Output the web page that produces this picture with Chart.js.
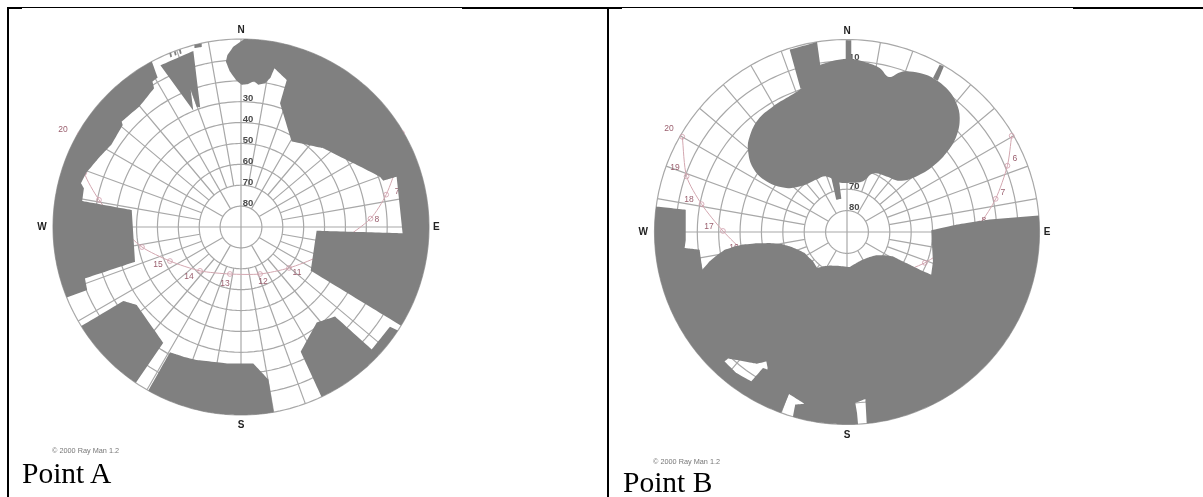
<!DOCTYPE html>
<html>
<head>
<meta charset="utf-8">
<title>Point A / Point B</title>
<script src="https://cdn.jsdelivr.net/npm/chart.js@4"></script>
<style>
html,body{margin:0;padding:0;background:#fff;overflow:hidden;}
body{width:1203px;height:497px;position:relative;font-family:"Liberation Sans",Arial,sans-serif;}
.rule{position:absolute;background:#000;}
.box{position:absolute;top:9px;height:488px;}
.copy{position:absolute;font-size:7.3px;color:#777;white-space:nowrap;}
.name{position:absolute;font-family:"Liberation Serif",serif;font-size:29.5px;color:#000;white-space:nowrap;line-height:30px;}
</style>
</head>
<body>
<div class="rule" style="left:7px;top:7px;width:455px;height:1px"></div>
<div class="rule" style="left:7px;top:7px;width:15px;height:2px"></div>
<div class="rule" style="left:462px;top:7px;width:160px;height:2px"></div>
<div class="rule" style="left:622px;top:7px;width:451px;height:1px"></div>
<div class="rule" style="left:1073px;top:7px;width:130px;height:2px"></div>
<div class="rule" style="left:7px;top:7px;width:2px;height:490px"></div>
<div class="rule" style="left:607px;top:7px;width:2px;height:490px"></div>

<div class="box" style="left:9px;width:597px"><canvas id="chartA" width="597" height="488"></canvas></div>
<div class="box" style="left:609px;width:594px"><canvas id="chartB" width="594" height="488"></canvas></div>

<div class="copy" style="left:52px;top:446px">© 2000 Ray Man 1.2</div>
<div class="copy" style="left:653px;top:457px">© 2000 Ray Man 1.2</div>
<div class="name" style="left:22px;top:458px">Point A</div>
<div class="name" style="left:623px;top:467px">Point B</div>

<script>
// sky map: x = east, y = north, both in degrees away from the zenith (horizon = 90)
function rim(a, b) {
  var out = [];
  for (var t = a; t < b; t += 2) {
    out.push([90 * Math.sin(t * Math.PI / 180), 90 * Math.cos(t * Math.PI / 180)]);
  }
  out.push([90 * Math.sin(b * Math.PI / 180), 90 * Math.cos(b * Math.PI / 180)]);
  return out;
}

var ringValues = [10, 20, 30, 40, 50, 60, 70, 80];
var spokeAzimuths = [0, 10, 20, 30, 40, 50, 60, 70, 80, 90, 100, 110, 120, 130, 140, 150, 160, 170,
  180, 190, 200, 210, 220, 230, 240, 250, 260, 270, 280, 290, 300, 310, 320, 330, 340, 350];
var compass = [['N', 0, 94], ['E', 93.5, 0], ['S', 0, -95], ['W', -95.3, 0]];

// sun track, first point is the line start, the others are the hours 6..20
var sunStart = [77, 45];
var sunHours = [[75, 31], [69.5, 15.5], [62, 4], [47.9, -6.7], [36.4, -14.4], [23, -19.6], [9.1, -22.5],
  [-5.3, -22.5], [-19.6, -21], [-34, -16.3], [-47.4, -9.6], [-58, 0.5], [-68, 13], [-75, 26], [-77, 44.5]];

var hourLabelsA = [['8', 65.1, 3.4], ['7', 74.7, 16.8], ['11', 26.8, -22], ['12', 10.5, -26.3],
  ['13', -7.7, -27.3], ['14', -24.9, -23.9], ['15', -39.7, -18.2], ['20', -85.2, 46.4]];
var hourLabelsB = [['20', -83.2, 48.2], ['19', -80.4, 29.9], ['18', -73.9, 15], ['17', -64.5, 2.3],
  ['16', -52.8, -7.5], ['6', 78.5, 34.1], ['7', 72.9, 18.2], ['8', 64, 5.1]];

// POINT A obstructions
var a_north_east = rim(1, 121.6).concat([[33.4, -20.9], [36.2, -1.8], [77.4, -3], [74.5, 24.1], [68.1, 22.2],
  [66.5, 24.1], [52.2, 31.3], [39.4, 37.7], [24.3, 40.9], [18.7, 59.2], [21.9, 70.4], [16, 76], [14.2, 71.6],
  [11.5, 68.8], [8.3, 68.1], [6.2, 69.9], [3.5, 68.5], [0.3, 68.1], [-2.4, 70.4], [-5.3, 74.4], [-7.2, 79.1],
  [-6.5, 82.3], [-3.7, 86.3]]);
var a_west = rim(248, 331.7).concat([[-39.9, 71.6], [-42.4, 69.6], [-41.6, 66.4], [-48.4, 57.9], [-57.1, 50.4],
  [-56.6, 48.8], [-61.9, 39.6], [-67.5, 33.7], [-74.2, 25.7], [-76.6, 20.9], [-75.2, 18.5], [-76, 12.4],
  [-52.3, 8.1], [-50.7, -16.6], [-74.7, -24.6], [-73.6, -30.2]]);
var a_wedge = [[-38.6, 77.4], [-22.8, 84.3], [-19.5, 57.3], [-21.2, 57.6], [-24.1, 65.9], [-22.8, 55.7]];
var a_chip = [[-22.3, 87.4], [-18.8, 87.9], [-18.8, 86.2], [-22.3, 85.7]];
var a_tick1 = [[-34.3, 83.1], [-33.5, 83.5], [-33, 81.5], [-33.8, 81.2]];
var a_tick2 = [[-32.1, 83.9], [-31.3, 84.3], [-30.8, 82.3], [-31.6, 82]];
var a_tick3 = [[-29.7, 84.7], [-28.9, 85.1], [-28.4, 83.1], [-29.2, 82.8]];
var a_south_west = rim(214, 238.2).concat([[-56.3, -35.4], [-49.9, -37.3], [-37.2, -55.4]]);
var a_south = rim(170, 209.5).concat([[-34, -60], [-27.6, -62.1], [-21.2, -63.7], [-6.9, -65.3], [5.9, -65.3], [13.1, -72.9]]);
var a_south_east = rim(123.4, 154.6).concat([[28.6, -59.7], [36.2, -45.8], [45, -42.9], [62.6, -58.6], [71.3, -47.7]]);

// POINT B obstructions
var b_hole = [[-44.7, -69.8], [-39.3, -63.6], [-36.9, -64.4], [-37.7, -60.5], [-42.4, -61.6], [-55.6, -59.2],
  [-57.2, -60.5], [-51.7, -65.9], [-44.7, -69.8]];
var b_ground = rim(85.1, 174.1)
  .concat([[8.6, -78.1], [3.9, -79.9], [4.7, -84.6]])
  .concat(rim(176.7, 196.3))
  .concat([[-24.2, -80.7], [-19.8, -80.3], [-27.1, -75.7]])
  .concat(rim(200, 212.6))
  .concat(b_hole)
  .concat(rim(212.6, 277.6))
  .concat([[-75.4, 10.4], [-75.4, -3.9], [-75.9, -7.5], [-68.9, -8.3], [-67.6, -17.6], [-64.2, -13.7], [-61.1, -11.1],
    [-57.2, -8.3], [-53.3, -7], [-48.6, -5.9], [-42.4, -5.3], [-36.2, -5.1], [-30.7, -5.6], [-26.8, -6.7], [-22.9, -8.3],
    [-19.8, -9.8], [-17.5, -12.2], [-15.9, -13.7], [-14, -16.8], [-11.2, -16.1], [-8.1, -15.7], [-3.4, -15.9], [1.2, -16.4],
    [4.4, -14.5], [7.5, -12.9], [10.6, -11.7], [13.7, -10.9], [17.6, -10.9], [21.5, -11.4], [27.7, -14.5], [34, -17.6],
    [39.4, -19.9], [40.2, -13.7], [39.4, 0.8], [51.1, 3.4], [66.7, 5.8]]);
var b_roof = [[-26.8, 85.2], [-14, 88.8], [-12.5, 78.2], [-12.5, 70], [-21.7, 66.9]];
var b_mast = [[-0.6, 89.6], [2, 89.6], [2, 79], [-0.6, 79]];
var b_pole = [[43.3, 78.2], [45.3, 77.4], [42.5, 70.7], [40.2, 72]];
var b_stem = [[-3.7, 24], [-2.6, 15.6], [-5, 15.1], [-7.3, 25.2]];
// the tree crowns, drawn with a curved line
var b_crowns = [[-6.5, 80.1], [1, 81], [9, 79.3], [15.3, 76.7], [19.6, 72.5], [24.6, 74.6], [27.7, 75.2], [34, 74.3], [40.2, 72],
  [47.2, 66.5], [51.1, 60.3], [52.7, 53.3], [51.1, 44.7], [46.4, 36.9], [40.2, 30.7], [32.4, 26], [24.6, 24], [18.4, 26],
  [12.2, 27.3], [7.5, 23.7], [2, 23], [-3.7, 23.2], [-9.7, 26], [-14.3, 24.5], [-20.6, 21.7], [-28.4, 20.6], [-37.7, 23.7],
  [-43.9, 29.9], [-46.3, 38.5], [-45.5, 44.7], [-41.6, 52.5], [-34.6, 58.7], [-28.4, 62.6], [-21.7, 66.9], [-14, 74], [-12.5, 78.2]];

function toPoints(list) {
  return list.map(function (p) { return { x: p[0], y: p[1] }; });
}

// tension has to stay above 0, with 0 chart.js takes its fast path and merges points in the same pixel column
var almostStraight = 0.0001;

// grid lines, shaded areas and sun track all become scatter datasets
function buildDatasets(shades, curved) {
  var sets = [];
  function gridLine(list) {
    sets.push({ data: toPoints(list), showLine: true, tension: almostStraight, pointRadius: 0, borderColor: '#a8a8a8', borderWidth: 1.2, order: 3 });
  }
  function shade(list, tension) {
    sets.push({ data: toPoints(list), showLine: true, tension: tension, pointRadius: 0, borderWidth: 0, borderColor: '#808080',
      backgroundColor: '#808080', fill: 'shape', order: 1 });
  }
  ringValues.concat([0]).forEach(function (el) {
    var ring = [];
    for (var t = 0; t <= 360; t += 3) {
      ring.push([(90 - el) * Math.sin(t * Math.PI / 180), (90 - el) * Math.cos(t * Math.PI / 180)]);
    }
    gridLine(ring);
  });
  spokeAzimuths.forEach(function (az) {
    var s = Math.sin(az * Math.PI / 180), c = Math.cos(az * Math.PI / 180);
    // only every third spoke reaches the 80 ring
    var from = az % 30 == 0 ? 10 : 20;
    gridLine([[from * s, from * c], [90 * s, 90 * c]]);
  });
  gridLine([[0, 10], [0, -10]]);
  gridLine([[10, 0], [-10, 0]]);

  sets.push({ label: 'sun', data: toPoints([sunStart].concat(sunHours)), showLine: true, tension: 0.25, borderColor: '#d3a7b0',
    borderWidth: 1, pointRadius: 2.4, pointBackgroundColor: 'rgba(255,255,255,0)', pointBorderColor: '#cf9dab', pointBorderWidth: 0.8, order: 2 });

  shades.forEach(function (list) { shade(list, almostStraight); });
  curved.forEach(function (list) { shade(list, 0.4); });
  return sets;
}

// elevation, hour and compass texts, laid down under the shaded areas
var skyLabels = {
  id: 'skyLabels',
  afterDatasetDraw: function (chart, args) {
    if (chart.data.datasets[args.index].label !== 'sun') return;
    var o = chart.options.plugins.skyLabels, ctx = chart.ctx, sx = chart.scales.x, sy = chart.scales.y;
    ctx.save();
    ctx.textAlign = 'center';
    ctx.textBaseline = 'middle';
    ctx.fillStyle = '#4a4a4a';
    ctx.font = 'bold 9.5px "Liberation Sans"';
    ringValues.forEach(function (el) {
      ctx.fillText(String(el), sx.getPixelForValue(3.4), sy.getPixelForValue(90 - el + 1.5));
    });
    ctx.fillStyle = '#222';
    ctx.font = 'bold 10px "Liberation Sans"';
    compass.forEach(function (c) {
      ctx.fillText(c[0], sx.getPixelForValue(c[1]), sy.getPixelForValue(c[2]));
    });
    ctx.fillStyle = '#9a5f6e';
    ctx.font = '8.5px "Liberation Sans"';
    o.hours.forEach(function (h) {
      ctx.fillText(h[0], sx.getPixelForValue(h[1]), sy.getPixelForValue(h[2]));
    });
    ctx.restore();
  }
};

function makeChart(id, shades, curved, hours, box) {
  // horizon circle centre and radius on the canvas decide the axis ranges
  var u = 90 / box.r;
  return new Chart(document.getElementById(id), {
    type: 'scatter',
    data: { datasets: buildDatasets(shades, curved) },
    options: {
      responsive: false,
      animation: false,
      events: [],
      layout: { padding: 0, autoPadding: false },
      scales: {
        x: { display: false, min: -box.cx * u, max: (box.w - box.cx) * u },
        y: { display: false, min: -(box.h - box.cy) * u, max: box.cy * u }
      },
      plugins: {
        legend: { display: false },
        tooltip: { enabled: false },
        skyLabels: { hours: hours }
      }
    },
    plugins: [skyLabels]
  });
}

makeChart('chartA', [a_north_east, a_west, a_wedge, a_chip, a_tick1, a_tick2, a_tick3, a_south_west, a_south, a_south_east], [], hourLabelsA,
  { cx: 232, cy: 218, r: 188, w: 597, h: 488 });
makeChart('chartB', [b_ground, b_roof, b_mast, b_pole, b_stem], [b_crowns], hourLabelsB,
  { cx: 238, cy: 223, r: 192.5, w: 594, h: 488 });
</script>
</body>
</html>
